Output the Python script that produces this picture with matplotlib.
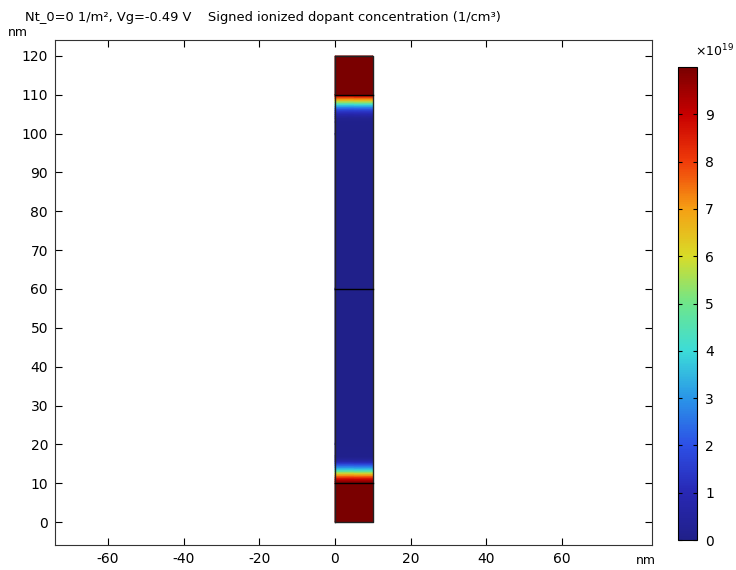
import numpy as np
import matplotlib
matplotlib.use("Agg")
import matplotlib.pyplot as plt
from matplotlib.colors import LinearSegmentedColormap, Normalize
import matplotlib.cm as cm

# Profile of signed ionized dopant concentration along y (nm), units 1e19 1/cm^3
y_nm = [0, 10, 10.5, 11, 11.5, 12, 12.5, 13, 13.5, 14, 14.5, 15, 15.5, 16, 16.5, 17, 20,
        60, 100, 103, 104, 104.5, 105, 105.5, 106, 106.5, 107, 107.5, 108, 108.5, 109,
        109.5, 110, 110.01, 120]
conc_e19 = [10, 10, 9.7, 9.0, 8.2, 7.2, 6.2, 5.0, 3.9, 3.1, 2.4, 1.7, 1.0, 0.5, 0.2, 0.05, 0.0,
            0.0, 0.0, 0.05, 0.2, 0.5, 0.8, 1.2, 1.6, 2.3, 3.1, 4.0, 5.2, 6.3, 7.3,
            8.4, 9.5, 10, 10]
x_nm = [0, 10]
boundaries_y = [10, 60, 110]

xticks = [-60, -40, -20, 0, 20, 40, 60]
yticks = list(range(0, 121, 10))
cticks = list(range(0, 10))

title = "Nt_0=0 1/m\u00b2, Vg=-0.49 V    Signed ionized dopant concentration (1/cm\u00b3)"

colors = ['#20208a', '#2828b4', '#2d50e6', '#2a96e8', '#3cdcd8', '#6ee68c',
          '#d8dc28', '#f5a014', '#f03c0a', '#c80000', '#7a0000']
cmap = LinearSegmentedColormap.from_list('comsol_rainbow', colors, N=256)
norm = Normalize(vmin=0, vmax=10)

plt.rcParams['font.family'] = ['DejaVu Sans']
plt.rcParams['axes.unicode_minus'] = False
fig = plt.figure(figsize=(7.36, 5.70), dpi=100)
ax = fig.add_axes([0.0747, 0.0439, 0.8113, 0.8859])

X, Y = np.meshgrid(np.array(x_nm, float), np.array(y_nm, float))
C = np.tile(np.array(conc_e19, float)[:, None], (1, len(x_nm)))
ax.pcolormesh(X, Y, C, shading='gouraud', cmap=cmap, norm=norm, zorder=1)

# domain outline and boundaries
ax.plot([x_nm[0], x_nm[1], x_nm[1], x_nm[0], x_nm[0]],
        [y_nm[0], y_nm[0], y_nm[-1], y_nm[-1], y_nm[0]], color='#222222', lw=1.0, zorder=3)
for yb in boundaries_y:
    ax.plot(x_nm, [yb, yb], color='black', lw=1.0, zorder=3)

ax.set_xlim(-74.0, 83.8)
ax.set_ylim(-5.9, 124.1)
ax.set_xticks(xticks)
ax.set_yticks(yticks)
ax.tick_params(direction='in', top=True, right=True, labelsize=10, length=5, width=0.8,
               colors='black', pad=5)
for s in ax.spines.values():
    s.set_linewidth(0.8)
    s.set_color('#333333')

fig.text(25/736, 1 - 17/570, title, fontsize=9.4, ha='left', va='center')
fig.text(18/736, 1 - 33/570, 'nm', fontsize=9, ha='center', va='center')
fig.text(646/736, 1 - 560/570, 'nm', fontsize=9, ha='center', va='center')

cax = fig.add_axes([678/736, 1 - 540/570, 19/736, 473/570])
cb = fig.colorbar(cm.ScalarMappable(norm=norm, cmap=cmap), cax=cax, ticks=cticks)
cb.ax.tick_params(direction='in', left=True, right=True, labelsize=10, length=3, width=0.8, pad=6)
cb.outline.set_linewidth(0.8)
fig.text(714/736, 1 - 51/570, '\u00d710$^{19}$', fontsize=9, ha='center', va='center')

fig.savefig('out.png', dpi=100)
